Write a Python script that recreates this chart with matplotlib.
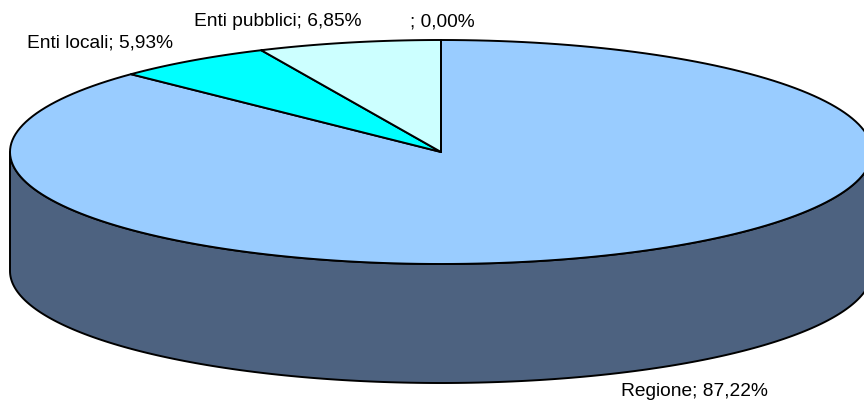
import matplotlib
matplotlib.use("Agg")
import matplotlib.pyplot as plt
import numpy as np
from matplotlib.patches import Polygon

labels = ["Regione", "Enti locali", "Enti pubblici", ""]
values = [87.22, 5.93, 6.85, 0.00]
top_colors = ["#99CCFF", "#00FFFF", "#CCFFFF", "#FFFFFF"]
side_colors = ["#4D6280", "#008080", "#667F80", "#808080"]

# label anchor positions (pixels) for each slice
label_pos = [(694, 391), (100, 43), (278, 22), (442, 22)]

cx, cy = 441, 152
a, b = 431, 112
depth = 119


def ellipse_pts(t0, t1, dy=0, n=200):
    t = np.radians(np.linspace(t0, t1, n))
    return np.column_stack([cx + a * np.cos(t), cy + dy - b * np.sin(t)])


fig = plt.figure(figsize=(8.64, 4.03), dpi=100)
ax = fig.add_axes([0, 0, 1, 1])
ax.set_xlim(0, 864)
ax.set_ylim(403, 0)
ax.axis("off")

fracs = np.array(values) / np.sum(values)
starts = 90 - 360 * np.concatenate([[0], np.cumsum(fracs)[:-1]])
ends = starts - 360 * fracs

# side walls (only the front half, 180..360 degrees, is visible)
for s, e, col in zip(starts, ends, side_colors):
    lo, hi = min(s, e), max(s, e)
    for k in (-360, 0, 360):
        l2, h2 = max(lo + k, 180), min(hi + k, 360)
        if h2 - l2 > 0.01:
            up = ellipse_pts(l2, h2)
            dn = ellipse_pts(h2, l2, dy=depth)
            ax.add_patch(Polygon(np.vstack([up, dn]), closed=True,
                                 facecolor=col, edgecolor="black", lw=1.4,
                                 joinstyle="round"))

# top faces
for s, e, col in zip(starts, ends, top_colors):
    if abs(s - e) < 0.01:
        ax.plot([cx, cx + a * np.cos(np.radians(s))],
                [cy, cy - b * np.sin(np.radians(s))], color="black", lw=1.4)
        continue
    pts = np.vstack([[cx, cy], ellipse_pts(s, e)])
    ax.add_patch(Polygon(pts, closed=True, facecolor=col, edgecolor="black",
                         lw=1.4, joinstyle="round"))

for name, v, (x, y) in zip(labels, values, label_pos):
    txt = f"{name}; {v:.2f}%".replace(".", ",")
    ax.text(x, y, txt, ha="center", va="center", fontsize=13.8,
            family="Liberation Sans", color="black")

fig.savefig("out.png", dpi=100)
